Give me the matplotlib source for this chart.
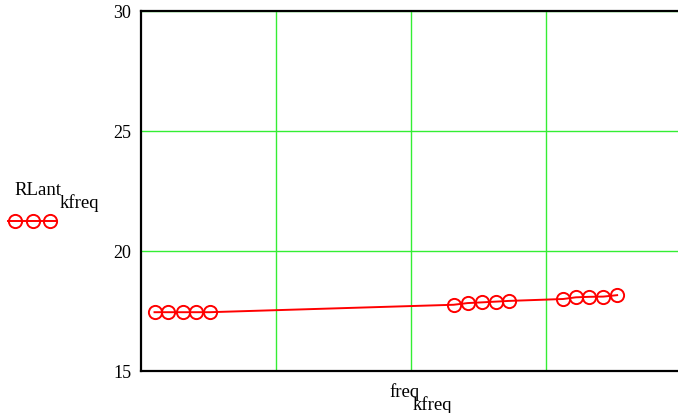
import matplotlib.pyplot as plt
from matplotlib.lines import Line2D

plt.rcParams['font.family'] = ['Liberation Serif', 'DejaVu Serif']

# freq (arbitrary units) and RLant values
freq = [0.100, 0.201, 0.309, 0.411, 0.508,
        2.316, 2.419, 2.525, 2.627, 2.724,
        3.127, 3.221, 3.318, 3.425, 3.527]
rlant = [17.45, 17.45, 17.45, 17.45, 17.45,
         17.76, 17.83, 17.86, 17.89, 17.92,
         18.00, 18.07, 18.09, 18.10, 18.16]
yticks = [15, 20, 25, 30]
xgrid = [1, 2, 3]

W, H = 678, 414
fig = plt.figure(figsize=(W / 100, H / 100), dpi=100)
ax = fig.add_axes([141 / W, 1 - 372 / H, 540 / W, 360 / H])

ax.plot(freq, rlant, color='red', lw=1.4, marker='o', ms=9.5,
        mfc='none', mec='red', mew=1.4, zorder=3)

ax.set_xlim(0, 4)
ax.set_ylim(15, 30)
ax.set_yticks(yticks)
ax.set_xticks(xgrid)
ax.set_xticklabels([])
ax.tick_params(axis='both', length=0, labelsize=13, pad=7)
ax.tick_params(axis='x', pad=0)
ax.grid(True, color='#33ee33', lw=1)
for s in ['top', 'bottom', 'left']:
    ax.spines[s].set_linewidth(1.6)
ax.spines['right'].set_visible(False)

# y label with subscript and legend sample
fs = 13.5
fig.text(14 / W, 1 - 195 / H, 'RLant', fontsize=fs, va='baseline', ha='left')
fig.text(60 / W, 1 - 208 / H, 'kfreq', fontsize=fs, va='baseline', ha='left')
ly = 1 - 222 / H
fig.add_artist(Line2D([8 / W, 57 / W], [ly, ly], color='red', lw=1.4,
                      transform=fig.transFigure))
fig.add_artist(Line2D([15 / W, 33 / W, 50 / W], [ly] * 3, ls='none',
                      marker='o', ms=9.5, mfc='none', mec='red', mew=1.4,
                      transform=fig.transFigure))
# x label with subscript
fig.text(389 / W, 1 - 397 / H, 'freq', fontsize=fs, va='baseline', ha='left')
fig.text(413 / W, 1 - 410 / H, 'kfreq', fontsize=fs, va='baseline', ha='left')

fig.savefig('out.png', dpi=100)
